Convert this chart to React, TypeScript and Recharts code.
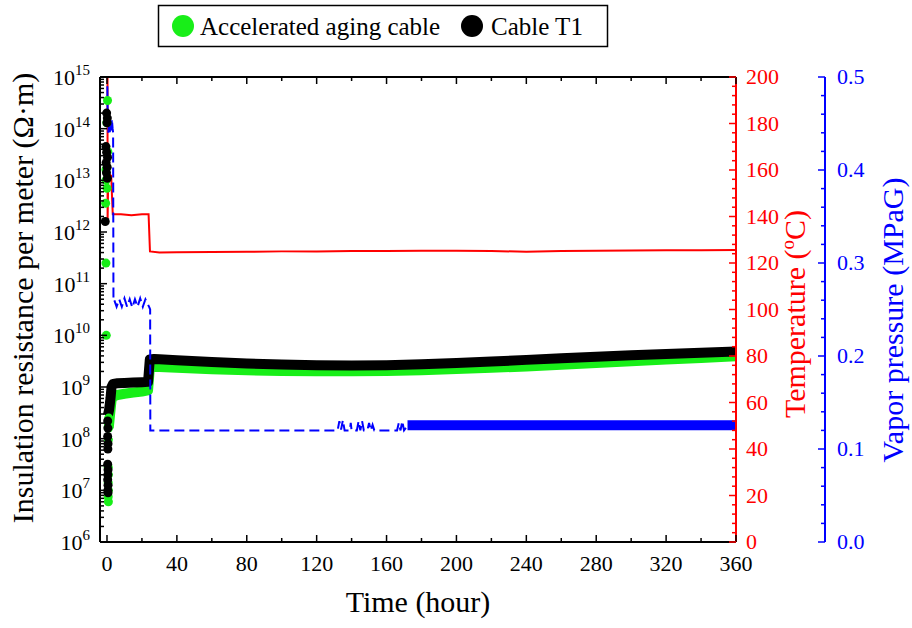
import { ComposedChart, Line, XAxis, YAxis } from 'recharts';

const FONT = "'Liberation Serif', 'Times New Roman', serif";
const GREEN = '#18ee18';
const BLACK = '#000000';
const RED = '#ff0000';
const BLUE = '#0000ff';

// Axis ticks
const timeTicks = [0, 20, 40, 60, 80, 100, 120, 140, 160, 180, 200, 220, 240, 260, 280, 300, 320, 340, 360];
const timeLabels = [0, 40, 80, 120, 160, 200, 240, 280, 320, 360];
const irDecades = [1e6, 1e7, 1e8, 1e9, 1e10, 1e11, 1e12, 1e13, 1e14, 1e15];
const tempLabels = [0, 20, 40, 60, 80, 100, 120, 140, 160, 180, 200];
const vpLabels = [0, 0.1, 0.2, 0.3, 0.4, 0.5];

// Insulation resistance, isolated readings around start-up: [hour, ohm·m]
const agedSpots: [number, number][] = [
  [0.3, 3.5e14], [-0.1, 1.3e14], [0.5, 3.6e13], [-0.6, 1.6e13], [-0.6, 1.0e13],
  [0.0, 7e12], [-0.8, 3.6e12], [-0.6, 2.5e11], [-0.4, 1e10],
  [1.0, 2.5e8], [0.9, 1.6e8], [0.8, 9.5e7], [0.7, 2.8e7], [0.8, 2e7],
  [0.7, 1.4e7], [0.8, 1e7], [0.7, 7.5e6], [0.8, 6e6],
];
const t1Spots: [number, number][] = [
  [-0.2, 2.0e14], [0.2, 1.6e14], [0.0, 1.3e14], [-0.6, 4.5e13], [-0.2, 3.5e13],
  [0.3, 2.8e13], [-0.5, 2.2e13], [0.1, 1.8e13], [-0.3, 1.4e13], [0.2, 1.1e13],
  [-1.0, 1.6e12],
  [0.4, 2.2e8], [0.5, 1.6e8], [0.4, 1.1e8], [0.6, 8e7], [0.5, 6.3e7],
  [0.4, 3.2e7], [0.6, 2.5e7], [0.5, 2e7], [0.4, 1.6e7], [0.6, 1.26e7],
  [0.5, 1e7], [0.6, 9e6],
];

// Insulation resistance, continuous logging
const agedTrend: [number, number][] = [
  [1.0, 1.6e8], [1.8, 3e8], [2.6, 5.5e8], [3.5, 6.5e8], [6, 7e8], [10, 7.4e8],
  [15, 7.8e8], [20, 8.2e8], [23.5, 8.6e8], [24.5, 2.3e9], [27, 2.45e9], [30, 2.45e9],
  [40, 2.35e9], [60, 2.2e9], [80, 2.1e9], [100, 2.05e9], [120, 2.02e9], [140, 2.02e9],
  [160, 2.05e9], [180, 2.12e9], [200, 2.22e9], [220, 2.35e9], [240, 2.5e9],
  [260, 2.7e9], [280, 2.9e9], [300, 3.15e9], [320, 3.4e9], [340, 3.65e9], [360, 3.95e9],
];
const t1Trend: [number, number][] = [
  [0.5, 2.8e8], [1.2, 3.6e8], [2.0, 6e8], [2.6, 1e9], [3.5, 1.15e9], [6, 1.18e9],
  [10, 1.2e9], [15, 1.22e9], [20, 1.24e9], [23.5, 1.26e9], [24.5, 3.4e9], [27, 3.5e9],
  [30, 3.45e9], [40, 3.3e9], [60, 3.05e9], [80, 2.85e9], [100, 2.72e9], [120, 2.65e9],
  [140, 2.62e9], [160, 2.65e9], [180, 2.75e9], [200, 2.9e9], [220, 3.1e9], [240, 3.35e9],
  [260, 3.6e9], [280, 3.85e9], [300, 4.1e9], [320, 4.35e9], [340, 4.6e9], [360, 4.85e9],
];

// Chamber temperature (°C)
const temperature: [number, number][] = [
  [0.3, 200], [0.35, 138], [0.7, 156], [1.5, 158], [2.4, 157.5], [3.3, 141],
  [8, 141], [14, 140.5], [20, 141], [23.8, 141], [24.6, 125], [30, 124.5],
  [40, 124.6], [60, 124.7], [80, 124.8], [100, 125], [120, 125], [140, 125.2],
  [160, 125.2], [180, 125.3], [200, 125.3], [220, 125.2], [240, 124.8], [260, 125.2],
  [280, 125.3], [300, 125.4], [320, 125.5], [340, 125.5], [360, 125.6],
];

// Vapor pressure (MPaG)
const vaporPressure: [number, number][] = [
  [0.2, 0.49], [0.3, 0.47], [0.5, 0.455], [0.8, 0.44], [1.2, 0.455], [1.6, 0.44],
  [2.0, 0.455], [2.4, 0.44], [2.8, 0.455], [3.2, 0.445], [3.5, 0.44], [3.7, 0.26],
  [4.0, 0.261], [5.5, 0.253], [7.0, 0.261], [8.5, 0.253], [10.0, 0.262], [11.5, 0.253],
  [13.0, 0.261], [14.5, 0.252], [16.0, 0.261], [17.5, 0.253], [19.0, 0.262], [20.5, 0.253],
  [22.0, 0.261], [23.3, 0.256], [24.3, 0.252], [24.7, 0.25], [24.8, 0.12],
  [60, 0.12], [100, 0.12], [132, 0.12], [133, 0.13], [134, 0.121], [135, 0.131],
  [136, 0.12], [139, 0.12], [139.5, 0.128], [140, 0.12], [143, 0.12], [144, 0.13],
  [145, 0.12], [146, 0.13], [147, 0.12], [149, 0.12], [150, 0.128], [151, 0.12],
  [152, 0.126], [153, 0.12], [158, 0.12], [166, 0.12], [167, 0.128], [168, 0.12],
  [169, 0.13], [170, 0.12], [172, 0.125],
];
// dense 0.12–0.13 oscillation after ~172 h
const vaporBand: [number, number][] = [[172, 0.1255], [360, 0.1255]];

const rows = (pts: [number, number][]) => pts.map(([t, v]) => ({ t, v }));

const irTicks = irDecades.flatMap((d, i) =>
  i === irDecades.length - 1 ? [d] : [1, 2, 3, 4, 5, 6, 7, 8, 9].map((m) => m * d)
);
const tempTicks = Array.from({ length: 51 }, (_, i) => i * 4);
const vpTicks = Array.from({ length: 26 }, (_, i) => +(i * 0.02).toFixed(2));

function LogTick({ x, y, payload }: any) {
  const v = payload.value;
  const major = irDecades.includes(v);
  return (
    <g>
      <line x1={x} y1={y} x2={x + (major ? 7 : 4)} y2={y} stroke={BLACK} strokeWidth={1.5} />
      {major && (
        <text x={x - 10} y={y + 8} textAnchor="end" fontFamily={FONT} fontSize={22} fill={BLACK}>
          10
          <tspan fontSize={15} dy={-10}>{Math.round(Math.log10(v))}</tspan>
        </text>
      )}
    </g>
  );
}

function TempTick({ x, y, payload }: any) {
  const v = payload.value;
  const major = tempLabels.includes(v);
  return (
    <g>
      <line x1={x} y1={y} x2={x - (major ? 7 : 4)} y2={y} stroke={RED} strokeWidth={1.5} />
      {major && (
        <text x={x + 10} y={y + 7} fontFamily={FONT} fontSize={22} fill={RED}>
          {v}
        </text>
      )}
    </g>
  );
}

function VaporTick({ x, y, payload }: any) {
  const v = payload.value;
  const major = vpLabels.some((m) => Math.abs(m - v) < 1e-6);
  return (
    <g>
      <line x1={x} y1={y} x2={x - (major ? 7 : 4)} y2={y} stroke={BLUE} strokeWidth={1.5} />
      {major && (
        <text x={x + 12} y={y + 7} fontFamily={FONT} fontSize={22} fill={BLUE}>
          {v.toFixed(1)}
        </text>
      )}
    </g>
  );
}

function BottomTick({ x, y, payload }: any) {
  const v = payload.value;
  const major = timeLabels.includes(v);
  return (
    <g>
      <line x1={x} y1={y} x2={x} y2={y - (major ? 7 : 4)} stroke={BLACK} strokeWidth={1.5} />
      {major && (
        <text x={x} y={y + 29} textAnchor="middle" fontFamily={FONT} fontSize={22} fill={BLACK}>
          {v}
        </text>
      )}
    </g>
  );
}

function TopTick({ x, y, payload }: any) {
  const major = timeLabels.includes(payload.value);
  return <line x1={x} y1={y} x2={x} y2={y + (major ? 7 : 4)} stroke={BLACK} strokeWidth={1.5} />;
}

export default function App() {
  return (
    <div style={{ position: 'absolute', left: 0, top: 0, width: 912, height: 628, background: '#fff' }}>
      <ComposedChart width={912} height={628} margin={{ top: 0, right: 0, bottom: 0, left: 0 }}>
        <XAxis
          xAxisId="b"
          dataKey="t"
          type="number"
          domain={[-4, 360]}
          allowDataOverflow
          ticks={timeTicks}
          interval={0}
          height={86}
          tickSize={0}
          tickMargin={0}
          tick={<BottomTick />}
          axisLine={{ stroke: BLACK, strokeWidth: 2 }}
        />
        <XAxis
          xAxisId="top"
          orientation="top"
          dataKey="t"
          type="number"
          domain={[-4, 360]}
          allowDataOverflow
          ticks={timeTicks}
          interval={0}
          height={77}
          tickSize={0}
          tickMargin={0}
          tick={<TopTick />}
          axisLine={{ stroke: BLACK, strokeWidth: 2 }}
        />
        <YAxis
          yAxisId="ir"
          scale="log"
          domain={[1e6, 1e15]}
          allowDataOverflow
          ticks={irTicks}
          interval={0}
          width={100}
          tickSize={0}
          tickMargin={0}
          tick={<LogTick />}
          axisLine={{ stroke: BLACK, strokeWidth: 2 }}
        />
        <YAxis
          yAxisId="temp"
          orientation="right"
          domain={[0, 200]}
          allowDataOverflow
          ticks={tempTicks}
          interval={0}
          width={89}
          tickSize={0}
          tickMargin={0}
          tick={<TempTick />}
          axisLine={{ stroke: RED, strokeWidth: 2 }}
        />
        <YAxis
          yAxisId="vp"
          orientation="right"
          domain={[0, 0.5]}
          allowDataOverflow
          ticks={vpTicks}
          interval={0}
          width={87}
          tickSize={0}
          tickMargin={0}
          tick={<VaporTick />}
          axisLine={{ stroke: BLUE, strokeWidth: 2 }}
        />

        <Line
          xAxisId="b" yAxisId="ir" data={rows(agedSpots)} dataKey="v"
          stroke="none" dot={{ r: 4.5, fill: GREEN, stroke: 'none' }} activeDot={false}
          isAnimationActive={false}
        />
        <Line
          xAxisId="b" yAxisId="ir" data={rows(agedTrend)} dataKey="v" type="linear"
          stroke={GREEN} strokeWidth={10} strokeLinejoin="round" dot={false} activeDot={false}
          isAnimationActive={false}
        />
        <Line
          xAxisId="b" yAxisId="ir" data={rows(t1Spots)} dataKey="v"
          stroke="none" dot={{ r: 4.5, fill: BLACK, stroke: 'none' }} activeDot={false}
          isAnimationActive={false}
        />
        <Line
          xAxisId="b" yAxisId="ir" data={rows(t1Trend)} dataKey="v" type="linear"
          stroke={BLACK} strokeWidth={10} strokeLinejoin="round" dot={false} activeDot={false}
          isAnimationActive={false}
        />
        <Line
          xAxisId="b" yAxisId="temp" data={rows(temperature)} dataKey="v" type="linear"
          stroke={RED} strokeWidth={2} dot={false} activeDot={false}
          isAnimationActive={false}
        />
        <Line
          xAxisId="b" yAxisId="vp" data={rows(vaporPressure)} dataKey="v" type="linear"
          stroke={BLUE} strokeWidth={2} strokeDasharray="10 5" dot={false} activeDot={false}
          isAnimationActive={false}
        />
        <Line
          xAxisId="b" yAxisId="vp" data={rows(vaporBand)} dataKey="v" type="linear"
          stroke={BLUE} strokeWidth={10} dot={false} activeDot={false}
          isAnimationActive={false}
        />
      </ComposedChart>

      <svg
        width={912}
        height={628}
        style={{ position: 'absolute', left: 0, top: 0, pointerEvents: 'none' }}
        fontFamily={FONT}
      >
        {/* legend */}
        <rect x={158.5} y={5.5} width={449} height={41} fill="#fff" stroke={BLACK} strokeWidth={1.5} />
        <circle cx={183} cy={26} r={11} fill={GREEN} />
        <text x={200} y={35} fontSize={25} fill={BLACK}>Accelerated aging cable</text>
        <circle cx={472} cy={26} r={11} fill={BLACK} />
        <text x={491} y={35} fontSize={25} fill={BLACK}>Cable T1</text>

        {/* axis titles */}
        <text x={418} y={612} textAnchor="middle" fontSize={30} fill={BLACK}>Time (hour)</text>
        <text x={33} y={298} textAnchor="middle" fontSize={30} fill={BLACK} transform="rotate(-90 33 298)">
          Insulation resistance per meter (Ω·m)
        </text>
        <text x={805} y={314} textAnchor="middle" fontSize={30} fill={RED} transform="rotate(-90 805 314)">
          Temperature (<tspan fontSize={19} dy={-11}>o</tspan>
          <tspan dy={11}>C)</tspan>
        </text>
        <text x={903} y={320} textAnchor="middle" fontSize={30} fill={BLUE} transform="rotate(-90 903 320)">
          Vapor pressure (MPaG)
        </text>
      </svg>
    </div>
  );
}
